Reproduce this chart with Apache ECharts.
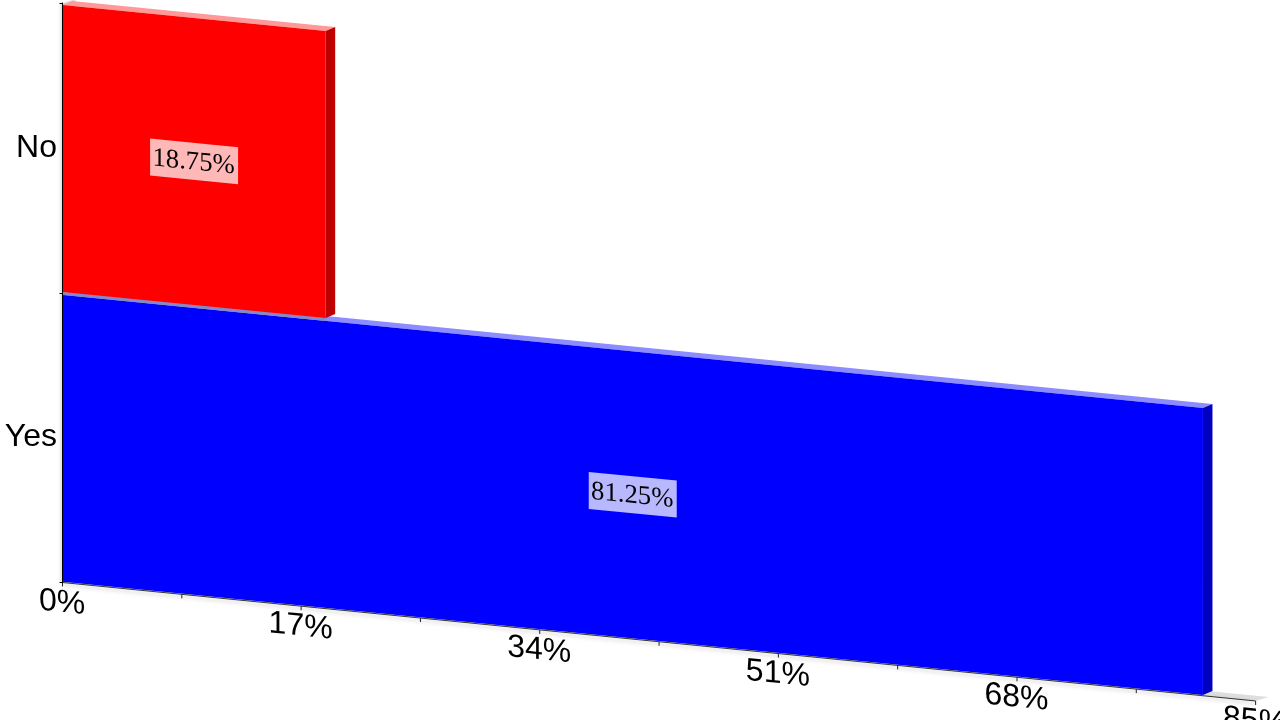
<!DOCTYPE html>
<html>
<head>
<meta charset="utf-8">
<style>html,body{margin:0;padding:0;background:#fff;overflow:hidden}#c{width:1280px;height:720px}</style>
<script src="https://cdn.jsdelivr.net/npm/echarts@6/dist/echarts.min.js"></script>
</head>
<body>
<div id="c"></div>
<script>
const categories = ['Yes', 'No'];
const seriesValues = [81.25, 18.75];
const valueLabels = ['81.25%', '18.75%'];
const barColors = ['#0000ff', '#ff0000'];
const sideColors = ['#0000bf', '#bf0000'];
const topColors = ['#8c8cff', '#ff9999'];
const majorTicks = [0, 17, 34, 51, 68, 85];
const majorTickLabels = ['0%', '17%', '34%', '51%', '68%', '85%'];
const minorTicks = [8.5, 25.5, 42.5, 59.5, 76.5];

const SLOPE = 0.0993, DX = 9.5, DY = -4;
const SHEAR = -Math.atan(SLOPE);

function sk(api, v, y) {
  const x0 = api.coord([0, 0])[0];
  const p = api.coord([v, 0]);
  return [p[0], y + (p[0] - x0) * SLOPE];
}
function poly(points, fill, z2) {
  return { type: 'polygon', z2: z2 || 0, shape: { points }, style: { fill, stroke: null }, silent: true };
}

const chart = echarts.init(document.getElementById('c'), null, { renderer: 'canvas' });
chart.setOption({
  animation: false,
  backgroundColor: '#ffffff',
  grid: { left: 62.5, right: 24.4, top: 3, bottom: 137.5, containLabel: false },
  xAxis: { type: 'value', min: 0, max: 85, interval: 17, show: false },
  yAxis: {
    type: 'category', data: categories, z: 5,
    axisLine: { show: true, lineStyle: { color: '#000', width: 1, shadowColor: 'rgba(0,0,0,0.35)', shadowBlur: 3, shadowOffsetX: -1 } },
    axisTick: { show: true, length: 3, lineStyle: { color: '#000', width: 1 } },
    axisLabel: { color: '#000', fontFamily: 'Liberation Sans', fontSize: 32, margin: 5.5, padding: [0, 0, 4, 0] },
    splitLine: { show: false }
  },
  series: [
    {
      type: 'custom', coordinateSystem: 'cartesian2d', clip: false, z: 1, silent: true,
      encode: { x: 0 },
      data: [[85]],
      renderItem(params, api) {
        const top = api.coord([0, 1])[1] - api.size([0, 1])[1] / 2;
        const bot = api.coord([0, 0])[1] + api.size([0, 1])[1] / 2;
        const a = sk(api, 0, bot), b = sk(api, 85, bot);
        const t = sk(api, 0, top);
        const children = [
          poly([a, b, [b[0] + 13, b[1] - 4], [a[0] + 13, a[1] - 4]], '#dedede'),
          poly([[t[0], t[1]], [t[0] + 13, t[1] - 4], [t[0] + 13, a[1] - 4], a], '#dedede')
        ];
        return { type: 'group', children };
      }
    },
    {
      type: 'custom', coordinateSystem: 'cartesian2d', clip: false, z: 2, silent: true,
      encode: { x: 0, y: 1 },
      data: seriesValues.map((v, i) => [v, i]),
      renderItem(params, api) {
        const i = api.value(1), v = api.value(0);
        const h = api.size([0, 1])[1];
        const cy = api.coord([0, i])[1];
        const bot = cy + h / 2 - 0.8, top = bot - 287;
        const a = sk(api, 0, top), b = sk(api, v, top), c = sk(api, v, bot), d = sk(api, 0, bot);
        const children = [
          poly([a, b, [b[0] + DX, b[1] + DY], [a[0] + DX, a[1] + DY]], topColors[i]),
          poly([b, [b[0] + DX, b[1] + DY], [c[0] + DX, c[1] + DY], c], sideColors[i]),
          poly([a, b, c, d], barColors[i])
        ];
        if (i === 1) {
          // soft contact shade where the upper bar meets the lower bar's top face
          const s0 = sk(api, 0, bot), s1 = sk(api, v, bot);
          children.unshift(poly([s0, s1, [s1[0], s1[1] + 3], [s0[0], s0[1] + 3]], '#8888c4'));
        }
        const mid = sk(api, v / 2, cy + 0.5);
        const bw = 88, bh = 37;
        const l = mid[0] - bw / 2, r = mid[0] + bw / 2, yl = mid[1] - bw / 2 * SLOPE, yr = mid[1] + bw / 2 * SLOPE;
        children.push(poly([[l, yl - bh / 2], [r, yr - bh / 2], [r, yr + bh / 2], [l, yl + bh / 2]], 'rgba(255,255,255,0.72)'));
        children.push({
          type: 'text', x: mid[0] - 0.5, y: mid[1] + 1, skewY: SHEAR, silent: true,
          style: { text: valueLabels[i], fill: '#000', font: '26.7px "Liberation Serif"', align: 'center', verticalAlign: 'middle' }
        });
        return { type: 'group', children };
      }
    },
    {
      type: 'custom', coordinateSystem: 'cartesian2d', clip: false, z: 3, silent: true,
      encode: { x: 0 },
      data: [[85]],
      renderItem(params, api) {
        const bot = api.coord([0, 0])[1] + api.size([0, 1])[1] / 2;
        const a = sk(api, 0, bot), b = sk(api, 85, bot);
        return {
          type: 'line', shape: { x1: a[0], y1: a[1], x2: b[0], y2: b[1] }, silent: true,
          style: { stroke: '#333', lineWidth: 1, shadowColor: 'rgba(0,0,0,0.35)', shadowBlur: 4, shadowOffsetY: 2 }
        };
      }
    },
    {
      type: 'custom', coordinateSystem: 'cartesian2d', clip: false, z: 4, silent: true,
      encode: { x: 0 },
      data: minorTicks.concat(majorTicks).map(v => [v]),
      renderItem(params, api) {
        const bot = api.coord([0, 0])[1] + api.size([0, 1])[1] / 2;
        const p = sk(api, api.value(0), bot);
        return { type: 'line', shape: { x1: p[0], y1: p[1], x2: p[0], y2: p[1] + 4 }, style: { stroke: '#222', lineWidth: 1 }, silent: true };
      }
    },
    {
      type: 'custom', coordinateSystem: 'cartesian2d', clip: false, z: 4, silent: true,
      encode: { x: 0 },
      data: majorTicks.map((v, i) => [v, i]),
      renderItem(params, api) {
        const bot = api.coord([0, 0])[1] + api.size([0, 1])[1] / 2;
        const p = sk(api, api.value(0), bot);
        return {
          type: 'text', x: p[0] - 0.5, y: p[1] + 20.5, skewY: SHEAR, silent: true,
          style: { text: majorTickLabels[api.value(1)], fill: '#000', font: '32px "Liberation Sans"', align: 'center', verticalAlign: 'middle' }
        };
      }
    }
  ]
});
</script>
</body>
</html>
